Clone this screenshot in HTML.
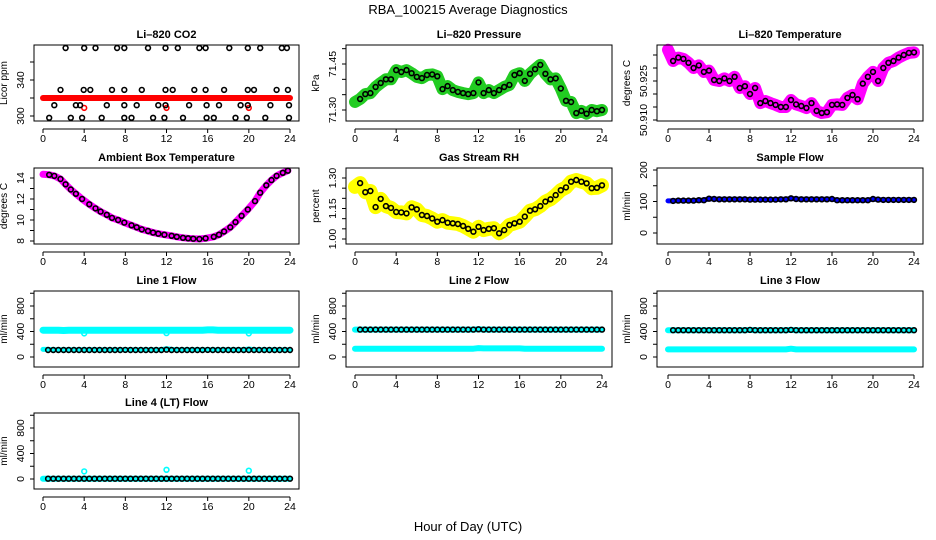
<!DOCTYPE html>
<html><head><meta charset="utf-8"><style>
html,body{margin:0;padding:0;background:#fff;}
svg{display:block;font-family:"Liberation Sans",sans-serif;}
</style></head><body>
<svg id="chart" width="936" height="540" viewBox="0 0 936 540">
<text x="468" y="14" text-anchor="middle" font-size="13">RBA_100215  Average Diagnostics</text>
<text x="468" y="531" text-anchor="middle" font-size="13">Hour of Day (UTC)</text>
</svg>
<script>
// ---- data ----
const halfHours=[0,0.5,1,1.5,2,2.5,3,3.5,4,4.5,5,5.5,6,6.5,7,7.5,8,8.5,9,9.5,10,10.5,11,11.5,12,12.5,13,13.5,14,14.5,15,15.5,16,16.5,17,17.5,18,18.5,19,19.5,20,20.5,21,21.5,22,22.5,23,23.5,24];
const co2BandHours=[0,24];
const co2BandVals=[320,320];
const co2Hours=[2.2,4.0,5.1,7.2,7.9,10.2,11.9,13.1,15.2,15.8,18.1,19.9,21.1,23.2,23.7,
1.7,3.95,4.6,6.7,7.9,9.6,11.9,12.6,14.7,15.8,17.6,19.9,20.5,22.7,23.8,
1.1,3.2,3.6,6.2,7.9,9.1,11.2,11.9,14.2,15.9,17.1,19.2,19.9,22.1,23.9,
0.6,2.7,3.8,5.7,7.9,8.6,10.7,11.8,13.6,15.9,16.6,18.7,19.8,21.6,23.9];
const co2Vals=[375.5,375.5,375.5,375.5,375.5,375.5,375.5,375.5,375.5,375.5,375.5,375.5,375.5,375.5,375.5,
329,329,329,329,329,329,329,329,329,329,329,329,329,329,329,
312,312,312,312,312,312,312,312,312,312,312,312,312,312,312,
298,298,298,298,298,298,298,298,298,298,298,298,298,298,298];
const co2OutHours=[4,12,20];
const co2OutVals=[309,309,309];
const pressVals=[71.326,71.336,71.352,71.355,71.375,71.388,71.40,71.40,71.43,71.424,71.43,71.42,71.408,71.404,71.414,71.416,71.41,71.368,71.378,71.365,71.359,71.355,71.352,71.355,71.39,71.355,71.365,71.355,71.365,71.375,71.382,71.414,71.42,71.395,71.418,71.433,71.447,71.418,71.40,71.403,71.37,71.33,71.326,71.29,71.297,71.288,71.30,71.296,71.30];
const tempVals=[50.937,50.9327,50.934,50.9335,50.932,50.930,50.931,50.9285,50.929,50.9254,50.925,50.926,50.925,50.9266,50.9223,50.923,50.920,50.9223,50.9165,50.9173,50.9165,50.9158,50.915,50.915,50.9177,50.916,50.9154,50.9146,50.9165,50.9135,50.9127,50.913,50.9158,50.916,50.9158,50.9185,50.9196,50.918,50.924,50.9266,50.9285,50.925,50.930,50.932,50.9327,50.934,50.935,50.9358,50.936];
const rhVals=[1.256,1.275,1.23,1.236,1.157,1.197,1.162,1.153,1.133,1.131,1.126,1.156,1.146,1.118,1.113,1.101,1.085,1.093,1.08,1.077,1.074,1.064,1.05,1.036,1.06,1.044,1.05,1.053,1.028,1.044,1.069,1.077,1.085,1.11,1.139,1.146,1.162,1.184,1.195,1.216,1.24,1.254,1.282,1.29,1.282,1.274,1.25,1.252,1.264];
const ambHours=[0,0.6,1.1,1.7,2.2,2.7,3.2,3.8,4.5,5.1,5.6,6.2,6.7,7.3,7.9,8.6,9.1,9.6,10.2,10.7,11.2,11.8,12.5,13.0,13.6,14.1,14.6,15.2,15.8,16.6,17.1,17.6,18.2,18.7,19.3,19.9,20.6,21.1,21.7,22.2,22.7,23.3,23.8];
const ambVals=[14.35,14.3,14.2,13.9,13.4,12.9,12.5,12.0,11.5,11.1,10.8,10.5,10.2,10.0,9.75,9.5,9.3,9.1,8.95,8.8,8.7,8.6,8.5,8.4,8.3,8.26,8.22,8.19,8.26,8.4,8.6,8.9,9.3,9.8,10.4,11.0,11.8,12.6,13.3,13.8,14.2,14.5,14.7];
const sampleVals=[102,102,103,103,103,103,104,104,109,108,107,107,107,107,107,107,106,106,106,106,106,106,107,107,110,108,107,107,107,107,107,107,108,104,104,104,104,104,104,104,108,106,105,105,105,105,105,105,105];
const line1High=[420,420,420,420,415,420,420,420,420,420,420,420,420,420,420,420,420,420,420,420,420,420,420,420,420,420,420,420,420,420,420,420,425,425,420,420,420,420,420,420,420,420,420,420,420,420,420,420,420];
const line1Low=[120,120,115,115,115,115,115,115,115,115,115,115,115,115,115,115,115,115,115,115,115,115,115,115,130,120,115,115,115,115,115,115,115,115,115,115,115,115,115,115,125,115,115,115,115,115,115,115,115];
const line1Black=[110,110,110,110,110,110,110,110,110,110,110,110,110,110,110,110,112,110,110,110,110,110,110,110,115,110,110,110,110,110,110,110,112,110,110,110,110,110,110,110,110,110,110,110,110,110,110,110,110];
const line1OutHours=[4,12,20];
const line1OutVals=[370,375,370];
const line2Cyan=[130,130,130,130,130,130,130,130,130,130,130,130,130,130,130,130,130,130,130,130,130,130,130,130,140,135,135,135,135,135,135,135,135,130,130,130,130,130,130,130,130,130,130,130,130,130,130,130,130];
const line2Black=[430,430,430,430,430,430,430,430,430,430,430,430,430,430,430,430,430,430,430,430,430,430,430,430,435,430,430,430,430,430,430,430,430,430,430,430,430,430,430,430,430,430,430,430,430,430,430,430,430];
const line3Cyan=[120,120,120,120,120,120,120,120,120,120,120,120,120,120,120,120,120,120,120,120,120,120,120,120,130,120,120,120,120,120,120,120,120,120,120,120,120,120,120,120,120,120,120,120,120,120,120,120,120];
const line3Black=[420,420,420,420,420,420,420,420,420,420,420,420,420,420,420,420,425,420,420,420,420,420,420,420,425,420,420,420,420,420,420,420,420,420,420,420,420,420,420,420,420,420,420,420,420,420,420,420,420];
const line4Vals=[5,5,5,5,5,5,5,5,5,5,5,5,5,5,5,5,5,5,5,5,5,5,5,5,5,5,5,5,5,5,5,5,5,5,5,5,5,5,5,5,5,5,5,5,5,5,5,5,5];
const line4OutHours=[4,12,20];
const line4OutVals=[120,145,130];
const xTicks=[0,4,8,12,16,20,24];

// ---- layout ----
const NS="http://www.w3.org/2000/svg";
const svg=document.getElementById('chart');
const cols=[{bx0:34,bx1:299,ax0:43,ax1:290},{bx0:346,bx1:612,ax0:355,ax1:602},{bx0:657,bx1:923,ax0:668,ax1:914}];
const rowTop=[45,168,291,413];
const BH=76;
function mk(tag,attrs,parent){const e=document.createElementNS(NS,tag);for(const k in attrs)e.setAttribute(k,attrs[k]);(parent||svg).appendChild(e);return e;}

function panel(p){
  const c=cols[p.col], top=rowTop[p.row], bot=top+BH;
  const g=mk('g',{});
  
  
  const xs=h=>c.ax0+h*(c.ax1-c.ax0)/24;
  const [v1,q1,v2,q2]=p.yref;
  const ys=v=>top+q1+(v-v1)*(q2-q1)/(v2-v1);
  const t=mk('text',{x:(c.bx0+c.bx1)/2,y:top-7,'text-anchor':'middle','font-size':11,'font-weight':'bold'},g);
  t.textContent=p.title;
  
  
  const xa=mk('g',{},g);
  
  
  mk('line',{x1:xs(0),x2:xs(24),y1:bot+8,y2:bot+8,stroke:'#000'},xa);
  xTicks.forEach(v=>{
    mk('line',{x1:xs(v),x2:xs(v),y1:bot+8,y2:bot+12,stroke:'#000'},xa);
    const tl=mk('text',{x:xs(v),y:bot+21,'text-anchor':'middle','font-size':10.5},xa);
    tl.textContent=v;
  });
  const ya=mk('g',{},g);
  
  
  p.ticks.forEach(v=>{
    mk('line',{x1:c.bx0-4,x2:c.bx0,y1:ys(v),y2:ys(v),stroke:'#000'},ya);
  });
  p.labels.forEach(l=>{
    const y=ys(l[0]);
    const tl=mk('text',{x:c.bx0-10,y:y,'text-anchor':'middle','font-size':10.5,transform:`rotate(-90 ${c.bx0-14} ${y})`},ya);
    tl.setAttribute('x',c.bx0-14);
    tl.setAttribute('y',y+4);
    tl.setAttribute('transform',`rotate(-90 ${c.bx0-14} ${y})`);
    tl.textContent=l[1];
  });
  const yt=mk('text',{x:c.bx0-27,y:(top+bot)/2,'text-anchor':'middle','font-size':10,transform:`rotate(-90 ${c.bx0-30} ${(top+bot)/2})`},ya);
  yt.setAttribute('x',c.bx0-30);
  yt.setAttribute('y',(top+bot)/2+3);
  yt.textContent=p.ytitle;
  
  
  p.series.forEach(s=>{
    const sg=mk('g',{},g);
    
    
    if(s.band){
      mk('polyline',{points:s.x.map((h,i)=>xs(h).toFixed(1)+','+ys(s.y[i]).toFixed(1)).join(' '),fill:'none',stroke:s.color,'stroke-width':s.band,'stroke-linecap':'round','stroke-linejoin':'round'},sg);
    }else{
      s.x.forEach((h,i)=>{
        if(s.skipFirst&&i===0)return;
        const ci=mk('circle',{cx:xs(h).toFixed(1),cy:ys(s.y[i]).toFixed(1),r:2.4,fill:'none',stroke:s.color,'stroke-width':1.6},sg);
        
        
      });
    }
  });
  mk('rect',{x:c.bx0,y:top,width:c.bx1-c.bx0,height:BH,fill:'none',stroke:'#000'},g);
}
const flowTicks=[0,200,400,600,800,1000];
const flowLabels=[[0,'0'],[400,'400'],[800,'800']];
const flowRef=[0,66,800,15];

panel({name:'co2-panel',col:0,row:0,title:'Li\u2013820 CO2',ytitle:'Licor ppm',yref:[300,71,340,35],ticks:[300,320,340,360],labels:[[300,'300'],[340,'340']],
 series:[{name:'co2-band',band:6,color:'#ff0000',x:co2BandHours,y:co2BandVals},{name:'co2-outliers',color:'#ff0000',x:co2OutHours,y:co2OutVals},{name:'co2-averages',color:'#000',x:co2Hours,y:co2Vals}]});
panel({name:'pressure-panel',col:1,row:0,title:'Li\u2013820 Pressure',ytitle:'kPa',yref:[71.30,65,71.45,19],ticks:[71.30,71.35,71.40,71.45,71.50],labels:[[71.30,'71.30'],[71.45,'71.45']],
 series:[{name:'pressure-band',band:12,color:'#22cc22',x:halfHours,y:pressVals},{name:'pressure-averages',color:'#000',x:halfHours,y:pressVals,skipFirst:true}]});
panel({name:'li820-temp-panel',col:2,row:0,title:'Li\u2013820 Temperature',ytitle:'degrees C',yref:[50.910,75,50.925,36],ticks:[50.910,50.915,50.920,50.925,50.930,50.935],labels:[[50.910,'50.910'],[50.925,'50.925']],
 series:[{name:'li820-temp-band',band:12,color:'#ff00ff',x:halfHours,y:tempVals},{name:'li820-temp-averages',color:'#000',x:halfHours,y:tempVals,skipFirst:true}]});
panel({name:'ambient-temp-panel',col:0,row:1,title:'Ambient Box Temperature',ytitle:'degrees C',yref:[8,73,14,10],ticks:[8,9,10,11,12,13,14],labels:[[8,'8'],[10,'10'],[12,'12'],[14,'14']],
 series:[{name:'ambient-band',band:7,color:'#ff00ff',x:ambHours,y:ambVals},{name:'ambient-averages',color:'#000',x:ambHours,y:ambVals,skipFirst:true}]});
panel({name:'rh-panel',col:1,row:1,title:'Gas Stream RH',ytitle:'percent',yref:[1.00,71,1.30,10],ticks:[1.00,1.05,1.10,1.15,1.20,1.25,1.30],labels:[[1.00,'1.00'],[1.15,'1.15'],[1.30,'1.30']],
 series:[{name:'rh-band',band:14,color:'#ffff00',x:halfHours,y:rhVals},{name:'rh-averages',color:'#000',x:halfHours,y:rhVals,skipFirst:true}]});
panel({name:'sample-flow-panel',col:2,row:1,title:'Sample Flow',ytitle:'ml/min',yref:[0,65,200,2],ticks:[0,50,100,150,200],labels:[[0,'0'],[100,'100'],[200,'200']],
 series:[{name:'sample-band',band:5,color:'#0000ff',x:halfHours,y:sampleVals},{name:'sample-averages',color:'#000',x:halfHours,y:sampleVals,skipFirst:true}]});
panel({name:'line1-flow-panel',col:0,row:2,title:'Line 1 Flow',ytitle:'ml/min',yref:flowRef,ticks:flowTicks,labels:flowLabels,
 series:[{name:'line1-high-band',band:7,color:'#00ffff',x:halfHours,y:line1High},{name:'line1-low-band',band:5,color:'#00ffff',x:halfHours,y:line1Low},{name:'line1-outliers',color:'#00ffff',x:line1OutHours,y:line1OutVals},{name:'line1-averages',color:'#000',x:halfHours,y:line1Black,skipFirst:true}]});
panel({name:'line2-flow-panel',col:1,row:2,title:'Line 2 Flow',ytitle:'ml/min',yref:flowRef,ticks:flowTicks,labels:flowLabels,
 series:[{name:'line2-high-band',band:6,color:'#00ffff',x:halfHours,y:line2Black},{name:'line2-low-band',band:6,color:'#00ffff',x:halfHours,y:line2Cyan},{name:'line2-averages',color:'#000',x:halfHours,y:line2Black,skipFirst:true}]});
panel({name:'line3-flow-panel',col:2,row:2,title:'Line 3 Flow',ytitle:'ml/min',yref:flowRef,ticks:flowTicks,labels:flowLabels,
 series:[{name:'line3-high-band',band:6,color:'#00ffff',x:halfHours,y:line3Black},{name:'line3-low-band',band:6,color:'#00ffff',x:halfHours,y:line3Cyan},{name:'line3-averages',color:'#000',x:halfHours,y:line3Black,skipFirst:true}]});
panel({name:'line4-flow-panel',col:0,row:3,title:'Line 4 (LT) Flow',ytitle:'ml/min',yref:flowRef,ticks:flowTicks,labels:flowLabels,
 series:[{name:'line4-band',band:6,color:'#00ffff',x:halfHours,y:line4Vals},{name:'line4-outliers',color:'#00ffff',x:line4OutHours,y:line4OutVals},{name:'line4-averages',color:'#000',x:halfHours,y:line4Vals,skipFirst:true}]});
</script>
</body></html>
